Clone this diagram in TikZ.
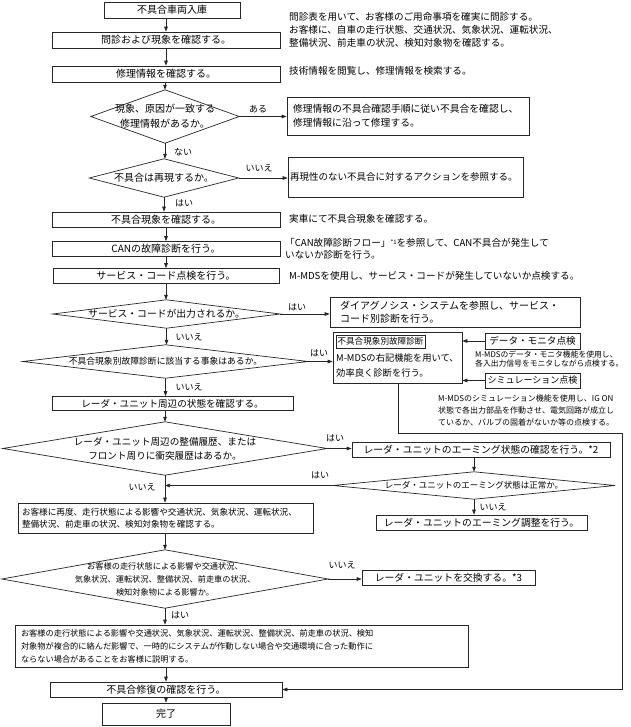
\documentclass[tikz,border=0pt]{standalone}
\usepackage{fontspec}
\setmainfont{Noto Sans CJK JP}
\usetikzlibrary{arrows.meta}
\newcommand\myfs[2]{\fontsize{#1}{#2}\selectfont}
\tikzset{
  ln/.style={draw=black!85, line width=0.7pt},
  box/.style={ln, inner sep=0pt, align=center, font=\myfs{10}{13}},
  lbox/.style={ln, inner ysep=0pt, align=left},
  dia/.style={inner sep=0pt, align=center},
  arr/.style={ln, -{Triangle[length=5pt,width=3.6pt]}},
  lbl/.style={inner sep=0pt, font=\myfs{9}{11}},
  note/.style={inner sep=0pt, anchor=west, align=left, font=\myfs{9.6}{13}}
}
\begin{document}
\begin{tikzpicture}[x=1pt,y=-1pt]
\useasboundingbox (0,0) rectangle (630,727);
% main column boxes
\node[box, minimum width=136pt, minimum height=16pt] (n1) at (172,10) {不具合車両入庫};
\node[box, minimum width=228pt, minimum height=16pt] (n2) at (166,40) {問診および現象を確認する。};
\node[box, minimum width=228pt, minimum height=16pt] (n3) at (166,74) {修理情報を確認する。};
\node[dia, minimum width=148pt, minimum height=53pt, font=\myfs{10}{15}] (d1) at (165,116.5) {現象、原因が一致する\\修理情報があるか。};
\node[dia, minimum width=149pt, minimum height=38pt, font=\myfs{10}{13}] (d2) at (164,178) {不具合は再現するか。};
\node[box, minimum width=228pt, minimum height=15pt] (n4) at (166,219.5) {不具合現象を確認する。};
\node[box, minimum width=228pt, minimum height=15pt] (n5) at (166,249) {CANの故障診断を行う。};
\node[box, minimum width=226pt, minimum height=15pt] (n6) at (166,276) {サービス・コード点検を行う。};
\node[dia, minimum width=227pt, minimum height=28pt, font=\myfs{9.8}{12}] (d3) at (166.5,314) {サービス・コードが出力されるか。};
\node[dia, minimum width=285pt, minimum height=33pt, font=\myfs{8.8}{12}] (d4) at (165.5,361.5) {不具合現象別故障診断に該当する事象はあるか。};
\node[box, minimum width=241pt, minimum height=14pt, font=\myfs{9.6}{12}] (n7) at (172.5,403.5) {レーダ・ユニット周辺の状態を確認する。};
\node[dia, minimum width=324pt, minimum height=53pt, font=\myfs{9.6}{14}] (d5) at (165,448.5) {レーダ・ユニット周辺の整備履歴、または\\フロント周りに衝突履歴はあるか。};
\node[lbox, text width=287pt, inner xsep=4pt, minimum height=30pt, font=\myfs{8.6}{12.5}] (n8) at (165.5,518) {お客様に再度、走行状態による影響や交通状況、気象状況、運転状況、\\整備状況、前走車の状況、検知対象物を確認する。};
\node[dia, minimum width=326pt, minimum height=58pt, font=\myfs{8.2}{13}] (d7) at (165,579) {お客様の走行状態による影響や交通状況、\\気象状況、運転状況、整備状況、前走車の状況、\\検知対象物による影響か。};
\node[lbox, text width=441pt, inner xsep=6pt, minimum height=42pt, font=\myfs{8.2}{13}] (n9) at (241.5,646) {お客様の走行状態による影響や交通状況、気象状況、運転状況、整備状況、前走車の状況、検知\\対象物が複合的に絡んだ影響で、一時的にシステムが作動しない場合や交通環境に合った動作に\\ならない場合があることをお客様に説明する。};
\node[box, minimum width=232pt, minimum height=15pt] (n10) at (166,689.5) {不具合修復の確認を行う。};
\node[box, minimum width=128pt, minimum height=22pt] (n11) at (166,714) {完了};
% right side boxes
\node[lbox, text width=230pt, inner xsep=6pt, minimum height=38pt, font=\myfs{9.8}{14}] (r1) at (408,116) {修理情報の不具合確認手順に従い不具合を確認し、\\修理情報に沿って修理する。};
\node[lbox, text width=231pt, inner xsep=2pt, minimum height=40pt, font=\myfs{9.5}{12}] (r2) at (405.5,177) {再現性のない不具合に対するアクションを参照する。};
\node[lbox, text width=230pt, inner xsep=10pt, minimum height=30pt, font=\myfs{10}{13}] (r3) at (455,312) {ダイアグノシス・システムを参照し、サービス・\\コード別診断を行う。};
\node[ln, minimum width=129pt, minimum height=51pt, inner sep=0pt] (r4) at (397.5,357.5) {};
\node[ln, minimum width=89pt, minimum height=13pt, inner sep=0pt, font=\myfs{8.6}{10}] (r4t) at (380.5,341.5) {不具合現象別故障診断};
\node[inner sep=0pt, anchor=west, align=left, font=\myfs{9.3}{15}] (r4b) at (336,365.5) {M-MDSの右記機能を用いて、\\効率良く診断を行う。};
\node[box, minimum width=95pt, minimum height=16pt, font=\myfs{9.6}{12}] (dm) at (532.5,341) {データ・モニタ点検};
\node[box, minimum width=95pt, minimum height=15pt, font=\myfs{9}{12}] (sm) at (532.5,380.5) {シミュレーション点検};
\node[note, font=\myfs{7.8}{9.8}] (dmt) at (475,359) {M-MDSのデータ・モニタ機能を使用し、\\各入出力信号をモニタしながら点検する。};
\node[note, font=\myfs{8}{12}] (smt) at (438,410) {M-MDSのシミュレーション機能を使用し、IG ON\\状態で各出力部品を作動させ、電気回路が成立し\\ているか、バルブの固着がないか等の点検する。};
\node[box, minimum width=258pt, minimum height=15pt, font=\myfs{9.8}{12}] (r5) at (481,449.5) {レーダ・ユニットのエーミング状態の確認を行う。*2};
\node[dia, minimum width=282pt, minimum height=27pt, font=\myfs{8.5}{11}] (d6) at (474,485.5) {レーダ・ユニットのエーミング状態は正常か。};
\node[box, minimum width=211pt, minimum height=15pt, font=\myfs{9.8}{12}] (r6) at (481.5,522.5) {レーダ・ユニットのエーミング調整を行う。};
\node[box, minimum width=173pt, minimum height=15pt, font=\myfs{9.8}{12}] (r7) at (448.5,577.5) {レーダ・ユニットを交換する。*3};
% notes
\node[note] (t1) at (289,30) {問診表を用いて、お客様のご用命事項を確実に問診する。\\お客様に、自車の走行状態、交通状況、気象状況、運転状況、\\整備状況、前走車の状況、検知対象物を確認する。};
\node[note] (t2) at (289,71) {技術情報を閲覧し、修理情報を検索する。};
\node[note] (t3) at (289,219) {実車にて不具合現象を確認する。};
\node[note, font=\myfs{9.6}{12}] (t4) at (285,249) {「CAN故障診断フロー」\raisebox{2.5pt}{\myfs{6}{6}*1}を参照して、CAN不具合が発生して\\いないか診断を行う。};
\node[note] (t5) at (289,276) {M-MDSを使用し、サービス・コードが発生していないか点検する。};
% diamonds
\foreach \d in {d1,d2,d3,d4,d5,d6,d7}
  \draw[ln] (\d.west) -- (\d.north) -- (\d.east) -- (\d.south) -- cycle;
% main flow
\draw[arr] (n1.south -| n2.north) -- (n2.north);
\draw[arr] (n2.south) -- (n3.north);
\draw[arr] (n3.south -| d1.north) -- (d1.north);
\draw[arr] (d1.south) -- (d2.north -| d1.south);
\draw[arr] (d2.south) -- (d2.south |- n4.north);
\draw[arr] (n4.south) -- (n5.north);
\draw[arr] (n5.south) -- (n6.north);
\draw[arr] (n6.south) -- (n6.south |- d3.north);
\draw[arr] (d3.south) -- (d3.south |- d4.north);
\draw[arr] (d4.south) -- (d4.south |- n7.north);
\draw[arr] (n7.south -| d5.north) -- (d5.north);
\draw[arr] (d5.south) -- (d5.south |- n8.north);
\draw[arr] (n8.south -| d7.north) -- (d7.north);
\draw[arr] (d7.south) -- (d7.south |- n9.north);
\draw[arr] (n9.south -| n10.north) -- (n10.north);
\draw[arr] (n10.south) -- (n11.north);
% side flows
\draw[arr] (d1.east) -- (d1.east -| r1.west);
\draw[arr] (d2.east) -- (d2.east -| r2.west);
\draw[arr] (d3.east) -- (d3.east -| r3.west);
\draw[arr] (d4.east) -- (d4.east -| r4.west);
\draw[arr] (dm.west) -- (dm.west -| r4.east);
\draw[arr] (sm.west) -- (sm.west -| r4.east);
\draw[arr] (d5.east) -- (d5.east -| r5.west);
\draw[arr] (r5.south -| d6.north) -- (d6.north);
\draw[arr] (d6.south) -- (d6.south |- r6.north);
\draw[arr] (d6.west) -- (d6.west -| d5.south);
\draw[arr] (d7.east) -- (d7.east -| r7.west);
\coordinate (c1) at (398,433);
\coordinate (c2) at (622,433);
\coordinate (c3) at (622,689.5);
\draw[arr] (r4.south -| c1) -- (c1) -- (c2) -- (c3) -- (n10.east);
% labels
\node[lbl] (l1) at (258,109) {ある};
\node[lbl] (l2) at (183,152) {ない};
\node[lbl] (l3) at (259,168) {いいえ};
\node[lbl] (l4) at (184,203) {はい};
\node[lbl] (l5) at (297,307) {はい};
\node[lbl] (l6) at (189,337) {いいえ};
\node[lbl] (l7) at (319,353) {はい};
\node[lbl] (l8) at (189,387.5) {いいえ};
\node[lbl] (l9) at (335,438) {はい};
\node[lbl] (l10) at (320,475) {はい};
\node[lbl] (l11) at (142,487) {いいえ};
\node[lbl] (l12) at (493,507) {いいえ};
\node[lbl] (l13) at (342,565) {いいえ};
\node[lbl] (l14) at (180,615) {はい};
\end{tikzpicture}
\end{document}
